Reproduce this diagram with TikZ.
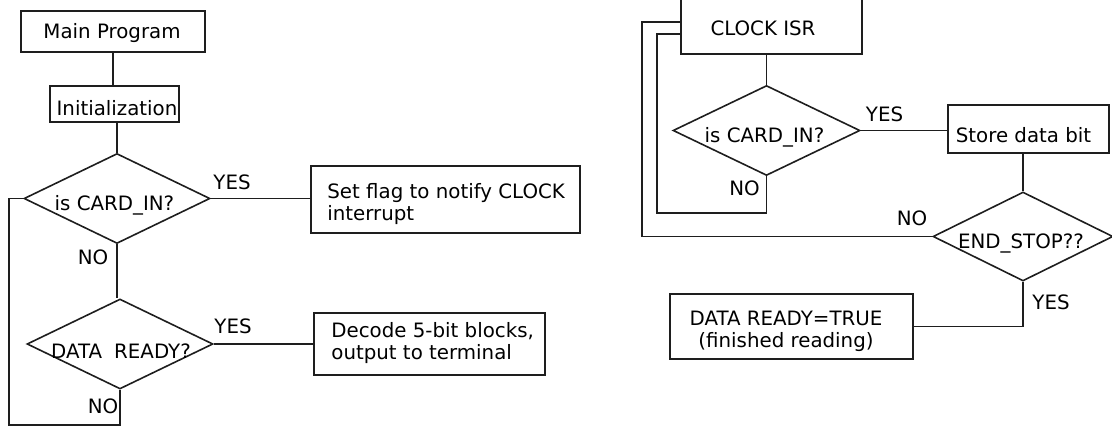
\documentclass[tikz,border=0pt]{standalone}
\usepackage{fontspec}
\setmainfont{DejaVu Sans}
\usetikzlibrary{shapes.geometric}
\definecolor{ink}{RGB}{30,30,30}
\begin{document}
\begin{tikzpicture}[x=1pt,y=-1pt,
  every node/.style={font=\fontsize{19.8}{22}\selectfont, text=black},
  frame/.style={draw=ink, line width=1.6pt, rectangle, inner sep=0pt},
  decision/.style={draw=ink, line width=1.6pt, diamond, inner sep=0pt,
                   minimum width=186pt, minimum height=90pt},
  caption/.style={inner sep=0pt, anchor=base},
  link/.style={draw=ink, line width=1.6pt},
]
\useasboundingbox (0,0) rectangle (1112,427);
\clip (0,0) rectangle (1112,427);

% ---------------- main program ----------------
\node[frame, minimum width=184pt, minimum height=41pt,
      label={[caption, xshift=-1pt, yshift=-1.8pt]center:Main Program}]
      (MP) at (113,31.5) {};
\node[frame, minimum width=129pt, minimum height=36pt,
      label={[caption, xshift=2.5pt, yshift=-4pt]center:Initialization}]
      (IN) at (114.5,104) {};
\node[decision,
      label={[caption, xshift=-2.5pt, yshift=-7pt]center:is CARD\_IN?}]
      (D1) at (117,198.5) {};
\node[decision,
      label={[caption, xshift=1pt, yshift=-6.7pt]center:DATA\hspace{12pt}READY?}]
      (D2) at (120,344) {};
\node[frame, minimum width=269pt, minimum height=67pt,
      label={[inner sep=0pt, align=left, anchor=west, xshift=17pt, yshift=-4.8pt]west:Set flag to notify CLOCK\\interrupt}]
      (SF) at (445.5,199.5) {};
\node[frame, minimum width=231pt, minimum height=62pt,
      label={[inner sep=0pt, align=left, anchor=west, xshift=18pt, yshift=1.1pt]west:Decode 5-bit blocks,\\output to terminal}]
      (DC) at (429.5,344) {};

\node[caption] (Y1) at (232,190) {YES};
\node[caption] (N1) at (93,265) {NO};
\node[caption] (Y2) at (233,333.3) {YES};
\node[caption] (N2) at (103,413.3) {NO};

\coordinate (LB) at (9,425);

\draw[link] (MP.south) -- (MP.south |- IN.north);
\draw[link] (D1.north) -- (D1.north |- IN.south);
\draw[link] (D1.south) -- (D1.south |- D2.north);
\draw[link] (D1.east) -- (D1.east -| SF.west);
\draw[link] (D2.east) -- (D2.east -| DC.west);
\draw[link] (D1.west) -| (LB) -| (D2.south);

% ---------------- clock interrupt routine ----------------
\node[frame, minimum width=181pt, minimum height=59pt,
      label={[caption, xshift=-8.5pt, yshift=-3.8pt]center:CLOCK ISR}]
      (CLK) at (771.5,24.5) {};
\node[decision, minimum width=187pt,
      label={[caption, xshift=-2pt, yshift=-6.7pt]center:is CARD\_IN?}]
      (D3) at (766.5,130.5) {};
\node[frame, minimum width=161pt, minimum height=48pt,
      label={[caption, xshift=-5pt, yshift=-6pt]center:Store data bit}]
      (ST) at (1028.5,129) {};
\node[decision, minimum width=180pt, minimum height=89pt,
      label={[caption, xshift=-2pt, yshift=-6.8pt]center:END\_STOP??}]
      (ES) at (1023,236.5) {};
\node[frame, minimum width=243pt, minimum height=65pt,
      label={[inner sep=0pt, align=center, xshift=-5.5pt, yshift=-4.7pt]center:DATA READY=TRUE\\(finished reading)}]
      (DR) at (791.5,326.5) {};

\node[caption] (Y3) at (884.5,121.7) {YES};
\node[caption] (N3) at (744.5,196) {NO};
\node[caption] (N4) at (912,226) {NO};
\node[caption] (Y4) at (1051,309.3) {YES};

\coordinate (OL) at (642,0);
\coordinate (IL) at (657,213);

\draw[link] (D3.north) -- (D3.north |- CLK.south);
\draw[link] (D3.east) -- (D3.east -| ST.west);
\draw[link] (ES.north) -- (ES.north |- ST.south);
\draw[link] (ES.south) |- (DR.east);
\draw[link] ([yshift=-9.5pt]CLK.west) -| (IL) -| (D3.south);
\draw[link] ([yshift=2.5pt]CLK.west) -| (ES.west -| OL) -- (ES.west);
\end{tikzpicture}
\end{document}
